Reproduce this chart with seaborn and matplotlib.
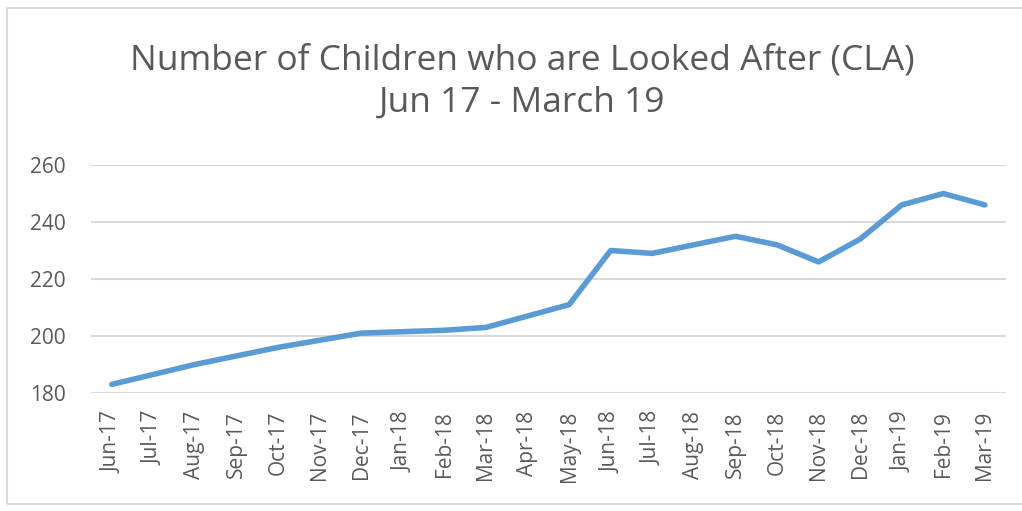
import matplotlib
matplotlib.use("Agg")
import matplotlib.pyplot as plt
import seaborn as sns
import pandas as pd
from matplotlib.patches import Rectangle

months = ["Jun-17", "Jul-17", "Aug-17", "Sep-17", "Oct-17", "Nov-17", "Dec-17",
          "Jan-18", "Feb-18", "Mar-18", "Apr-18", "May-18", "Jun-18", "Jul-18",
          "Aug-18", "Sep-18", "Oct-18", "Nov-18", "Dec-18", "Jan-19", "Feb-19",
          "Mar-19"]
cla_count = [183, 186.5, 190, 193, 196, 198.5, 201, 201.5, 202, 203, 207, 211,
             230, 229, 232, 235, 232, 226, 234, 246, 250, 246]
y_ticks = [180, 200, 220, 240, 260]

title_text = "Number of Children who are Looked After (CLA)\nJun 17 - March 19"

sns.set_theme(style="white")
plt.rcParams["font.family"] = ["Open Sans", "DejaVu Sans"]

text_grey = "#595959"
grid_grey = "#D9D9D9"
line_blue = "#5B9BD5"

df = pd.DataFrame({"month": months, "count": cla_count, "pos": range(len(months))})

fig = plt.figure(figsize=(10.22, 5.11), dpi=100)
ax = fig.add_axes([0.089, 0.231, 0.895, 0.446])

sns.lineplot(data=df, x="pos", y="count", ax=ax, color=line_blue,
             linewidth=4.0, solid_capstyle="round", solid_joinstyle="round")

ax.set_xlim(-0.5, len(months) - 0.5)
ax.set_ylim(180, 260)
ax.set_yticks(y_ticks)
ax.set_xticks(range(len(months)))
ax.set_xticklabels(months, rotation=90, fontsize=15, color=text_grey)
ax.tick_params(axis="y", labelsize=15, colors=text_grey, length=0, pad=18)
ax.tick_params(axis="x", length=0, pad=13)
ax.set_xlabel("")
ax.set_ylabel("")

ax.yaxis.grid(True, color=grid_grey, linewidth=1.5)
ax.xaxis.grid(False)
ax.set_axisbelow(True)
for side in ax.spines.values():
    side.set_visible(False)

fig.text(0.511, 0.84, title_text, ha="center", va="center", fontsize=25.5,
         color=text_grey, linespacing=1.3)

# Light frame around the chart area
fig.patches.append(Rectangle((7 / 1022, 1 - 504 / 511), 1030 / 1022, 496 / 511,
                             transform=fig.transFigure, fill=False,
                             edgecolor=grid_grey, linewidth=1.5))

fig.savefig("out.png", dpi=100, facecolor="white")
